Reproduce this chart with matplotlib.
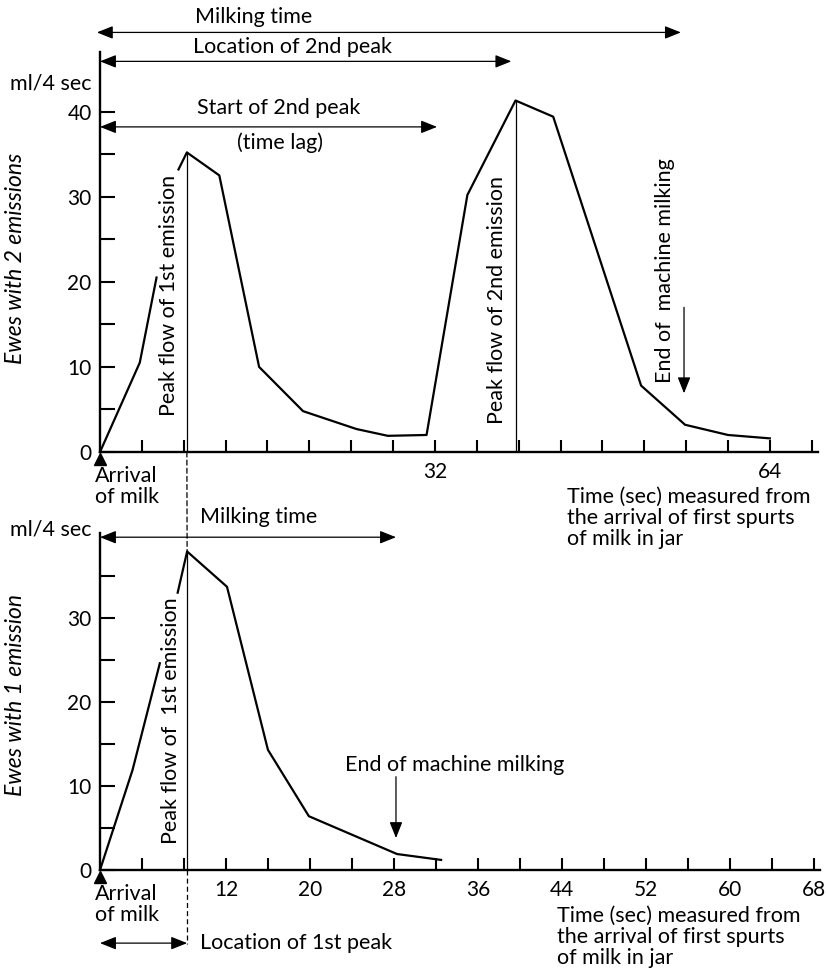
import numpy as np
import matplotlib
matplotlib.use("Agg")
import matplotlib.pyplot as plt
from matplotlib.patches import ConnectionPatch
from matplotlib.transforms import ScaledTranslation

plt.rcParams['font.family'] = ['Lato', 'DejaVu Sans']

# ewes with 2 emissions (flow in ml/4 sec), gap where the label breaks the curve
t_two = [0, 3.8, 5.4, np.nan, 7.5, 8.3, 11.4, 15.2, 19.4, 24.5, 27.5, 31.2,
         35.1, 39.7, 43.3, 51.7, 55.9, 60.0, 64.0]
flow_two = [0, 10.5, 20.5, np.nan, 33.2, 35.2, 32.5, 10.0, 4.8, 2.7, 1.9, 2.0,
            30.2, 41.3, 39.4, 7.8, 3.2, 2.0, 1.6]

# ewes with 1 emission
t_one = [0, 3.1, 5.7, np.nan, 7.4, 8.3, 12.1, 16.0, 19.9, 28.3, 32.5]
flow_one = [0, 11.9, 24.6, np.nan, 33.0, 37.9, 33.7, 14.3, 6.4, 1.9, 1.2]

peak1 = 8.3          # peak of 1st emission (both groups)
peak2 = 39.7         # peak of 2nd emission
start2 = 32.2        # start of 2nd peak (time lag)
milk_end_two = 55.5  # milking time, 2 emissions
end_two = 55.8       # end of machine milking arrow
milk_end_one = 28.2
end_one = 28.2

top_xlabels = {32: '32', 64: '64'}
bot_xlabels = {t: str(t) for t in range(12, 69, 8)}

W, H = 826, 972
fig = plt.figure(figsize=(W / 100, H / 100), dpi=100)


def frame(left, top, right, bottom):
    return [left / W, 1 - bottom / H, (right - left) / W, (bottom - top) / H]


def px(x, y):
    return x / W, 1 - y / H


ax1 = fig.add_axes(frame(100, 52, 818, 452))
ax2 = fig.add_axes(frame(100, 533, 820, 870))

for ax, ymax, labels in [(ax1, 47, top_xlabels), (ax2, 40.1, bot_xlabels)]:
    ax.set_xlim(0, 68.6)
    ax.set_ylim(0, ymax)
    for s in ['top', 'right']:
        ax.spines[s].set_visible(False)
    for s in ['left', 'bottom']:
        ax.spines[s].set_linewidth(1.7)
    ticks = list(range(4, 69, 4))
    ax.set_xticks(ticks)
    ax.set_xticklabels([labels.get(t, '') for t in ticks])
    yt = list(range(0, int(ymax) - 4, 5))
    ax.set_yticks(yt)
    ax.set_yticklabels([str(v) if v % 10 == 0 else '' for v in yt])
    ax.tick_params(axis='x', direction='in', length=9, width=1.5, pad=7, labelsize=15)
    ax.tick_params(axis='y', direction='in', length=11, width=1.5, pad=6, labelsize=15)
    # arrival marker
    off = ScaledTranslation(0, -5 / 72, fig.dpi_scale_trans)
    ax.plot([0], [0], marker='^', ms=8, color='k', clip_on=False,
            transform=ax.transData + off, zorder=5)

ax1.plot(t_two, flow_two, color='k', lw=1.6, clip_on=False)
ax2.plot(t_one, flow_one, color='k', lw=1.6, clip_on=False)

# thin vertical peak lines
ax1.plot([peak1, peak1], [0, 35.2], color='k', lw=0.9)
ax1.plot([peak2, peak2], [0, 41.3], color='k', lw=0.9)
ax2.plot([peak1, peak1], [0, 37.9], color='k', lw=0.9)

# dashed connector between the two peaks of 1st emission
con = ConnectionPatch(xyA=(peak1, 0), coordsA=ax1.transData,
                      xyB=(peak1, 37.9), coordsB=ax2.transData,
                      color='k', lw=0.9, linestyle=(0, (4, 2.5)))
fig.add_artist(con)
ax2.plot([peak1, peak1], [0, -8.8], color='k', lw=0.9, linestyle=(0, (4, 2.5)),
         clip_on=False)

both = dict(arrowstyle='<|-|>,head_length=0.7,head_width=0.28', color='k',
            lw=0.9, shrinkA=0, shrinkB=0, mutation_scale=14)
down = dict(arrowstyle='-|>,head_length=0.7,head_width=0.28', color='k',
            lw=0.9, shrinkA=0, shrinkB=0, mutation_scale=14)

ax1.annotate('', xy=(milk_end_two, 49.3), xytext=(-0.3, 49.3), arrowprops=both,
             annotation_clip=False)
ax1.annotate('', xy=(peak2 - 0.4, 45.9), xytext=(0, 45.9), arrowprops=both,
             annotation_clip=False)
ax1.annotate('', xy=(start2, 38.2), xytext=(0, 38.2), arrowprops=both,
             annotation_clip=False)
ax1.annotate('', xy=(end_two, 6.9), xytext=(end_two, 17.0), arrowprops=down)

ax2.annotate('', xy=(milk_end_one, 39.6), xytext=(0, 39.6), arrowprops=both,
             annotation_clip=False)
ax2.annotate('', xy=(end_one, 3.8), xytext=(end_one, 11.1), arrowprops=down)
ax2.annotate('', xy=(peak1, -8.7), xytext=(0, -8.7), arrowprops=both,
             annotation_clip=False)

fs = 15.5
fig.text(*px(195, 17), 'Milking time', fontsize=fs, va='center')
fig.text(*px(193, 47), 'Location of 2nd peak', fontsize=fs, va='center')
fig.text(*px(197, 108), 'Start of 2nd peak', fontsize=fs, va='center')
fig.text(*px(237, 143), '(time lag)', fontsize=fs, va='center')
fig.text(*px(200, 517), 'Milking time', fontsize=fs, va='center')

fig.text(*px(92, 83), 'ml/4 sec', fontsize=fs, ha='right', va='center')
fig.text(*px(92, 530), 'ml/4 sec', fontsize=fs, ha='right', va='center')

fig.text(*px(16, 258), 'Ewes with 2 emissions', fontsize=16.5, style='italic',
         rotation=90, ha='center', va='center')
fig.text(*px(16, 695), 'Ewes with 1 emission', fontsize=16.5, style='italic',
         rotation=90, ha='center', va='center')

fig.text(*px(169, 416), 'Peak flow of 1st emission', fontsize=fs, rotation=90,
         ha='center', va='bottom')
fig.text(*px(171, 844), 'Peak flow of  1st emission', fontsize=fs, rotation=90,
         ha='center', va='bottom')
fig.text(*px(497, 424), 'Peak flow of 2nd emission', fontsize=fs, rotation=90,
         ha='center', va='bottom')
fig.text(*px(665, 383), 'End of  machine milking', fontsize=fs, rotation=90,
         ha='center', va='bottom')
fig.text(*px(345, 765), 'End of machine milking', fontsize=fs, va='center')

fig.text(*px(95, 466), 'Arrival\nof milk', fontsize=fs, va='top', linespacing=1.05)
fig.text(*px(95, 884), 'Arrival\nof milk', fontsize=fs, va='top', linespacing=1.05)

time_txt = 'Time (sec) measured from\nthe arrival of first spurts\nof milk in jar'
fig.text(*px(567, 487), time_txt, fontsize=fs, va='top', linespacing=1.05)
fig.text(*px(557, 906), time_txt, fontsize=fs, va='top', linespacing=1.05)

fig.text(*px(200, 943), 'Location of 1st peak', fontsize=fs, va='center')

fig.savefig('out.png', dpi=100)
